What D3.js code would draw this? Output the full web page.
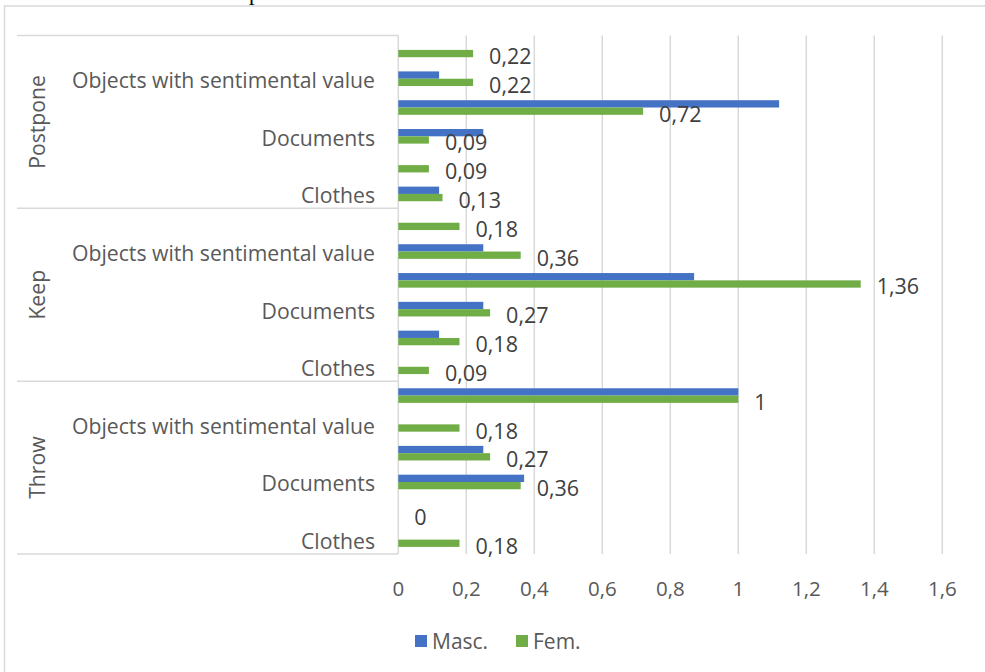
<!DOCTYPE html>
<html>
<head>
<meta charset="utf-8">
<script src="https://cdn.jsdelivr.net/npm/d3@7"></script>
<style>
  html, body { margin: 0; padding: 0; background: #fff; }
  svg { display: block; }
  text { font-family: "Open Sans", "Noto Sans", sans-serif; }
</style>
</head>
<body>
<svg id="chart" width="985" height="672"></svg>
<script>
// Decisions on objects, by gender: share of answers per action and item type
const groups = ["Postpone", "Keep", "Throw"];
// item labels inside each action group, listed top to bottom
const itemLabels = ["", "Objects with sentimental value", "", "Documents", "", "Clothes"];
const seriesNames = ["Masc.", "Fem."];
// rows top to bottom: Postpone (6), Keep (6), Throw (6)
const masc = [0, 0.12, 1.12, 0.25, 0, 0.12,
              0, 0.25, 0.87, 0.25, 0.12, 0,
              1, 0, 0.25, 0.37, 0, 0];
const fem  = [0.22, 0.22, 0.72, 0.09, 0.09, 0.13,
              0.18, 0.36, 1.36, 0.27, 0.18, 0.09,
              1, 0.18, 0.27, 0.36, 0, 0.18];
const ticks = [0, 0.2, 0.4, 0.6, 0.8, 1, 1.2, 1.4, 1.6];

const colors = ["#4472C4", "#70AD47"];
const gridColor = "#d9d9d9";
const labelColor = "#595959";

const svg = d3.select("#chart");

// outer chart frame (continues past the right and bottom edges)
svg.append("rect")
  .attr("x", 4.5).attr("y", 6).attr("width", 1000).attr("height", 700)
  .attr("fill", "none").attr("stroke", gridColor).attr("stroke-width", 1.5);

// tail of the document line above the chart
svg.append("text")
  .attr("x", 249).attr("y", -0.5)
  .style("font-family", "'Liberation Serif', serif")
  .style("font-size", "22px")
  .attr("fill", "#000")
  .text("p");

const rowCount = groups.length * itemLabels.length;
const rows = d3.range(rowCount).map(i => ({
  i,
  group: groups[Math.floor(i / itemLabels.length)],
  label: itemLabels[i % itemLabels.length],
  masc: masc[i],
  fem: fem[i]
}));

const x = d3.scaleLinear().domain([0, 1.6]).range([398.3, 942.3]);
const y = d3.scaleBand().domain(d3.range(rowCount)).range([35.5, 554]);
const sub = d3.scaleBand().domain(seriesNames).range([0, 14.6]);
const barOffset = (y.bandwidth() - 14.6) / 2;

// vertical gridlines
svg.append("g").selectAll("line")
  .data(ticks.slice(1))
  .join("line")
  .attr("x1", d => x(d)).attr("x2", d => x(d))
  .attr("y1", y.range()[0]).attr("y2", y.range()[1])
  .attr("stroke", gridColor).attr("stroke-width", 1.5);

// category axis: vertical axis line and group separators
svg.append("line")
  .attr("x1", x(0)).attr("x2", x(0))
  .attr("y1", y.range()[0]).attr("y2", y.range()[1])
  .attr("stroke", gridColor).attr("stroke-width", 1.5);

const sepRows = d3.range(0, rowCount + 1, itemLabels.length);
svg.append("g").selectAll("line")
  .data(sepRows)
  .join("line")
  .attr("x1", 17).attr("x2", x(0))
  .attr("y1", d => d < rowCount ? y(d) : y.range()[1])
  .attr("y2", d => d < rowCount ? y(d) : y.range()[1])
  .attr("stroke", gridColor).attr("stroke-width", 1.5);

// bars
const barG = svg.append("g");
rows.forEach(r => {
  const vals = [r.masc, r.fem];
  seriesNames.forEach((s, k) => {
    if (vals[k] <= 0) return;
    barG.append("rect")
      .attr("x", x(0))
      .attr("y", y(r.i) + barOffset + sub(s))
      .attr("width", x(vals[k]) - x(0))
      .attr("height", sub.bandwidth())
      .attr("fill", colors[k]);
  });
});

const fmt = v => String(+v.toFixed(2)).replace(".", ",");

// data labels for the Fem. series
svg.append("g").selectAll("text")
  .data(rows)
  .join("text")
  .attr("x", d => x(d.fem) + 16)
  .attr("y", d => y(d.i) + barOffset + sub("Fem.") + sub.bandwidth() / 2 + 2)
  .attr("dominant-baseline", "central")
  .style("font-size", "21.5px")
  .attr("fill", "#404040")
  .text(d => fmt(d.fem));

// item labels
svg.append("g").selectAll("text")
  .data(rows.filter(r => r.label))
  .join("text")
  .attr("x", 375)
  .attr("y", d => y(d.i) + y.bandwidth() / 2 + 1)
  .attr("text-anchor", "end")
  .attr("dominant-baseline", "central")
  .style("font-size", "21.2px")
  .attr("fill", labelColor)
  .text(d => d.label);

// group labels, rotated
svg.append("g").selectAll("text")
  .data(groups)
  .join("text")
  .attr("transform", (g, gi) => {
    const y0 = y(gi * itemLabels.length);
    const y1 = gi === groups.length - 1 ? y.range()[1] : y((gi + 1) * itemLabels.length);
    return `translate(36,${(y0 + y1) / 2}) rotate(-90)`;
  })
  .attr("text-anchor", "middle")
  .attr("dominant-baseline", "central")
  .style("font-size", "21.2px")
  .attr("fill", labelColor)
  .text(d => d);

// value axis tick labels
svg.append("g").selectAll("text")
  .data(ticks)
  .join("text")
  .attr("x", d => x(d))
  .attr("y", 588)
  .attr("text-anchor", "middle")
  .attr("dominant-baseline", "central")
  .style("font-size", "20.5px")
  .attr("fill", labelColor)
  .text(d => fmt(d));

// legend
const legend = svg.append("g");
const legendItems = [{ name: "Masc.", x: 415 }, { name: "Fem.", x: 516 }];
legendItems.forEach((it, k) => {
  legend.append("rect")
    .attr("x", it.x).attr("y", 635).attr("width", 12).attr("height", 12)
    .attr("fill", colors[k]);
  legend.append("text")
    .attr("x", it.x + 17).attr("y", 641)
    .attr("dominant-baseline", "central")
    .style("font-size", "21px")
    .attr("fill", labelColor)
    .text(it.name);
});
</script>
</body>
</html>
